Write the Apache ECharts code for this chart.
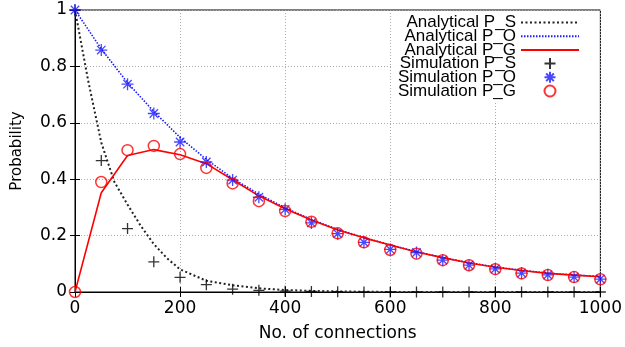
<!DOCTYPE html>
<html>
<head>
<meta charset="utf-8">
<script src="https://cdn.jsdelivr.net/npm/echarts@6/dist/echarts.min.js"></script>
<style>
  html, body { margin: 0; padding: 0; background: #fff; }
  #chart { width: 625px; height: 347px; }
</style>
</head>
<body>
<div id="chart"></div>
<script>
// x values (connections)
var xSim = [0, 50, 100, 150, 200, 250, 300, 350, 400, 450, 500, 550, 600, 650, 700, 750, 800, 850, 900, 950, 1000];
var xAnaS = [0, 25, 50, 75, 100, 125, 150, 175, 200, 250, 300, 350, 400, 450, 500, 550, 600, 700, 800, 900, 1000];

// analytical curves
var anaPS = [1, 0.75, 0.53, 0.39, 0.31, 0.235, 0.17, 0.12, 0.08, 0.04, 0.024, 0.013, 0.007, 0.004, 0.002, 0.001, 0, 0, 0, 0, 0];
var anaPO = [1, 0.862, 0.742, 0.64, 0.548, 0.47, 0.403, 0.347, 0.298, 0.257, 0.222, 0.193, 0.167, 0.143, 0.122, 0.104, 0.089, 0.077, 0.067, 0.06, 0.055];
var anaPG = [0, 0.352, 0.484, 0.505, 0.487, 0.455, 0.398, 0.341, 0.295, 0.255, 0.22, 0.192, 0.167, 0.142, 0.122, 0.103, 0.088, 0.076, 0.066, 0.06, 0.054];

// simulation points
var simPS = [1, 0.466, 0.225, 0.107, 0.052, 0.026, 0.01, 0.006, 0.003, 0.002, 0.001, 0, 0, 0, 0, 0, 0, 0, 0, 0, 0];
var simPO = [1, 0.858, 0.737, 0.633, 0.532, 0.461, 0.397, 0.336, 0.293, 0.245, 0.207, 0.176, 0.151, 0.14, 0.113, 0.095, 0.082, 0.067, 0.061, 0.053, 0.046];
var simPG = [0, 0.39, 0.503, 0.518, 0.489, 0.44, 0.385, 0.322, 0.287, 0.249, 0.208, 0.176, 0.149, 0.136, 0.113, 0.095, 0.081, 0.066, 0.06, 0.053, 0.045];

var xTicks = [0, 200, 400, 600, 800, 1000];
var yTicks = [0, 0.2, 0.4, 0.6, 0.8, 1];

function pairs(xs, ys){
    var out = [];
    for(var i=0; i<xs.length; i++){
        out.push([xs[i], ys[i]]);
    }
    return out;
}

var font = 'DejaVu Sans';
var PLUS = 'path://M5,0L5,10M0,5L10,5';
var STAR = 'path://M5,0L5,10M0,5L10,5M1.5,1.5L8.5,8.5M1.5,8.5L8.5,1.5';

var mirrorX = {
    type: 'value', position: 'top', min: 0, max: 1000, interval: 200,
    axisLine: { show: true, lineStyle: { color: '#000' } },
    axisTick: { show: true, inside: true, length: 5, lineStyle: { color: '#000' } },
    axisLabel: { show: false }, splitLine: { show: false }
};
var mirrorY = {
    type: 'value', position: 'right', min: 0, max: 1, interval: 0.2,
    axisLine: { show: true, lineStyle: { color: '#000' } },
    axisTick: { show: true, inside: true, length: 5, lineStyle: { color: '#000' } },
    axisLabel: { show: false }, splitLine: { show: false }
};

// line entries in the key: hide the little marker, keep the line
var noMark = { opacity: 0 };

var option = {
    animation: false,
    backgroundColor: '#fff',
    grid: { left: 75, right: 23, top: 10, bottom: 46, show: true, borderColor: '#000', borderWidth: 1 },
    legend: {
        orient: 'vertical',
        align: 'right',
        right: 27,
        top: 12,
        padding: [2, 18, 3, 6],
        backgroundColor: '#fff',
        itemGap: -3.3,
        itemWidth: 58,
        itemHeight: 11,
        textStyle: { fontFamily: 'Liberation Sans', fontSize: 17, color: '#000' },
        data: [
            { name: 'Analytical P_S', itemStyle: noMark },
            { name: 'Analytical P_O', itemStyle: noMark },
            { name: 'Analytical P_G', itemStyle: noMark },
            'Simulation P_S', 'Simulation P_O', 'Simulation P_G'
        ]
    },
    xAxis: [{
        type: 'value', min: 0, max: 1000, interval: 200,
        name: 'No. of connections', nameLocation: 'middle', nameGap: 33,
        nameTextStyle: { fontFamily: font, fontSize: 17, color: '#000' },
        axisLine: { show: true, lineStyle: { color: '#000' } },
        axisTick: { show: true, inside: true, length: 5, lineStyle: { color: '#000' } },
        axisLabel: { fontFamily: font, fontSize: 17, color: '#000', margin: 8,
            formatter: function(v){ return xTicks.indexOf(v) >= 0 ? String(v) : ''; } },
        splitLine: { show: true, lineStyle: { color: '#aaa', type: [1, 2], width: 1 } }
    }, mirrorX],
    yAxis: [{
        type: 'value', min: 0, max: 1, interval: 0.2,
        name: 'Probability', nameLocation: 'middle', nameGap: 50,
        nameTextStyle: { fontFamily: font, fontSize: 15, color: '#000' },
        axisLine: { show: true, lineStyle: { color: '#000' } },
        axisTick: { show: true, inside: true, length: 5, lineStyle: { color: '#000' } },
        axisLabel: { fontFamily: font, fontSize: 17, color: '#000', margin: 8,
            formatter: function(v){
                var r = Math.round(v * 10) / 10;
                return yTicks.indexOf(r) >= 0 ? String(r) : '';
            } },
        splitLine: { show: true, lineStyle: { color: '#aaa', type: [1, 2], width: 1 } }
    }, mirrorY],
    series: [
        {
            name: 'Analytical P_S', type: 'line', symbol: 'none', z: 2,
            lineStyle: { color: '#222', width: 2, type: [2, 2.5] },
            itemStyle: { color: '#222' },
            data: pairs(xAnaS, anaPS)
        },
        {
            name: 'Analytical P_O', type: 'line', symbol: 'none', z: 2,
            lineStyle: { color: '#1a1aff', width: 1.6, type: [1.5, 1.5] },
            itemStyle: { color: '#1a1aff' },
            data: pairs(xSim, anaPO)
        },
        {
            name: 'Analytical P_G', type: 'line', symbol: 'none', z: 3,
            lineStyle: { color: '#ff0000', width: 1.6 },
            itemStyle: { color: '#ff0000' },
            data: pairs(xSim, anaPG)
        },
        {
            name: 'Simulation P_S', type: 'scatter', symbol: PLUS, symbolSize: 11, z: 4,
            itemStyle: { color: 'rgba(0,0,0,0)', borderColor: '#000', borderWidth: 1.3 },
            data: pairs(xSim, simPS)
        },
        {
            name: 'Simulation P_O', type: 'scatter', symbol: STAR, symbolSize: 12, z: 5,
            itemStyle: { color: 'rgba(0,0,0,0)', borderColor: '#1a1aff', borderWidth: 1.3 },
            data: pairs(xSim, simPO)
        },
        {
            name: 'Simulation P_G', type: 'scatter', symbol: 'circle', symbolSize: 11, z: 6,
            itemStyle: { color: 'rgba(0,0,0,0)', borderColor: '#ff0000', borderWidth: 1.5 },
            data: pairs(xSim, simPG)
        }
    ]
};

var myChart = echarts.init(document.getElementById('chart'));
myChart.setOption(option);
</script>
</body>
</html>
